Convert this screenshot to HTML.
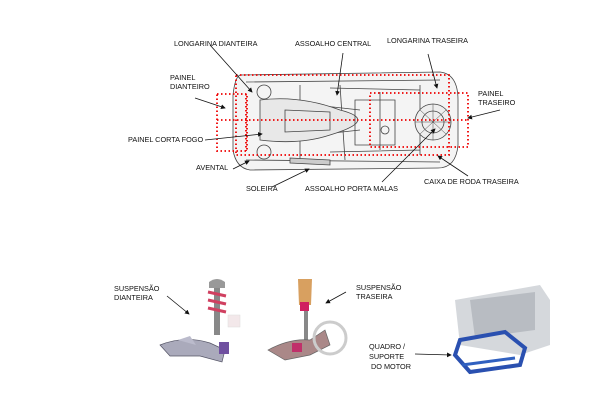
<!DOCTYPE html>
<html><head><meta charset="utf-8"><style>
html,body{margin:0;padding:0;background:#fff;}
svg{display:block;}
text{font-family:"Liberation Sans",sans-serif;font-size:7.3px;fill:#111;}
</style></head><body>
<svg width="600" height="400" viewBox="0 0 600 400" xmlns="http://www.w3.org/2000/svg">
<defs><marker id="a" markerWidth="6" markerHeight="6" refX="5" refY="3" orient="auto"><path d="M0,0L6,3L0,6z" fill="#111"/></marker></defs>
<g fill="none" stroke="#444" stroke-width="0.8">
<path d="M240,75 L440,72 Q458,74 458,100 L458,145 Q456,168 438,168 L250,170 Q236,168 233,150 L233,95 Q235,77 240,75z" fill="#f4f4f4"/>
<path d="M246,82 L440,80 M246,160 L440,162 M300,85 L300,160 M330,88 L420,90 M330,152 L420,150 M270,100 L360,110 M270,140 L360,130 M340,85 L345,160 M380,92 L380,150 M420,85 L420,155"/>
<path d="M260,100 Q300,95 340,110 Q380,120 330,135 Q300,145 260,140z" fill="#e8e8e8"/>
<path d="M285,110 L330,112 L330,130 L285,132z"/>
<circle cx="264" cy="92" r="7"/><circle cx="264" cy="152" r="7"/>
<circle cx="433" cy="122" r="18" fill="#eee"/><circle cx="433" cy="122" r="11"/>
<path d="M433,104 L433,140 M415,122 L451,122 M420,110 L446,134 M446,110 L420,134" stroke-width="0.5"/>
<path d="M355,100 L395,100 L395,145 L355,145z"/>
<circle cx="385" cy="130" r="4"/>
<path d="M290,158 L330,160 L330,165 L290,163z" fill="#ccc"/>
</g>
<g fill="none" stroke="#e00" stroke-width="1.8" stroke-dasharray="1.5,2.5">
<rect x="236" y="75" width="213" height="80"/>
<rect x="217" y="94" width="30" height="57"/>
<rect x="370" y="93" width="98" height="54"/>
<line x1="217" y1="120" x2="468" y2="120"/>
<line x1="246" y1="94" x2="246" y2="151"/>
</g>
<g stroke="#111" stroke-width="0.8" marker-end="url(#a)">
<line x1="210" y1="45" x2="252" y2="92"/>
<line x1="343" y1="53" x2="337" y2="95"/>
<line x1="428" y1="54" x2="437" y2="88"/>
<line x1="195" y1="98" x2="225" y2="108"/>
<line x1="205" y1="140" x2="262" y2="134"/>
<line x1="500" y1="110" x2="468" y2="118"/>
<line x1="233" y1="169" x2="249" y2="161"/>
<line x1="272" y1="187" x2="309" y2="169"/>
<line x1="382" y1="182" x2="435" y2="129"/>
<line x1="468" y1="176" x2="438" y2="156"/>
<line x1="167" y1="296" x2="189" y2="314"/>
<line x1="346" y1="292" x2="326" y2="303"/>
<line x1="415" y1="354" x2="451" y2="355"/>
</g>
<text x="174" y="46">LONGARINA  DIANTEIRA</text>
<text x="295" y="46">ASSOALHO CENTRAL</text>
<text x="387" y="43">LONGARINA TRASEIRA</text>
<text x="170" y="80">PAINEL</text><text x="170" y="89">DIANTEIRO</text>
<text x="128" y="142" fill="#334">PAINEL CORTA FOGO</text>
<text x="196" y="170">AVENTAL</text>
<text x="246" y="191">SOLEIRA</text>
<text x="305" y="191">ASSOALHO PORTA MALAS</text>
<text x="478" y="96">PAINEL</text><text x="478" y="105">TRASEIRO</text>
<text x="424" y="184">CAIXA DE RODA TRASEIRA</text>
<text x="114" y="291">SUSPENSÃO</text><text x="114" y="300">DIANTEIRA</text>
<text x="356" y="290">SUSPENSÃO</text><text x="356" y="299">TRASEIRA</text>
<text x="369" y="349">QUADRO /</text><text x="369" y="359">SUPORTE</text><text x="371" y="369">DO MOTOR</text>
<g>
<rect x="214" y="285" width="6" height="50" fill="#888"/>
<path d="M209,282 Q217,276 225,282 L225,288 L209,288z" fill="#999"/>
<g stroke="#d04060" stroke-width="3" fill="none">
<path d="M208,292 L226,296 M208,300 L226,304 M208,308 L226,312"/></g>
<path d="M160,345 Q185,335 210,343 L225,350 L222,362 L200,356 L170,356z" fill="#aab" stroke="#556" stroke-width="0.7"/>
<path d="M178,340 L190,336 L196,345z" fill="#bbc"/>
<rect x="219" y="342" width="10" height="12" fill="#7050a0"/>
<rect x="228" y="315" width="12" height="12" fill="#f3e8ea" stroke="#ddd" stroke-width="0.5"/>
</g>
<g>
<rect x="304" y="285" width="4" height="55" fill="#888"/>
<path d="M298,279 L312,279 L311,305 L299,305z" fill="#d8a060"/>
<rect x="300" y="302" width="9" height="9" fill="#d02060"/>
<path d="M268,350 Q290,338 310,340 L325,330 L330,345 L310,355 L285,360z" fill="#a88" stroke="#666" stroke-width="0.7"/>
<circle cx="330" cy="338" r="16" fill="none" stroke="#ccc" stroke-width="3"/>
<rect x="292" y="343" width="10" height="9" fill="#c0306a"/>
</g>
<g>
<path d="M455,300 L540,285 L550,300 L550,345 L520,355 L460,345z" fill="#d5d8dc"/>
<path d="M470,300 L535,292 L535,330 L475,338z" fill="#b8bcc2"/>
<path d="M460,340 L505,332 L525,348 L520,365 L470,372 L455,355z" fill="none" stroke="#2a50b0" stroke-width="4"/>
<path d="M462,365 L515,358" stroke="#3060c0" stroke-width="3"/>
</g>
</svg>
</body></html>
